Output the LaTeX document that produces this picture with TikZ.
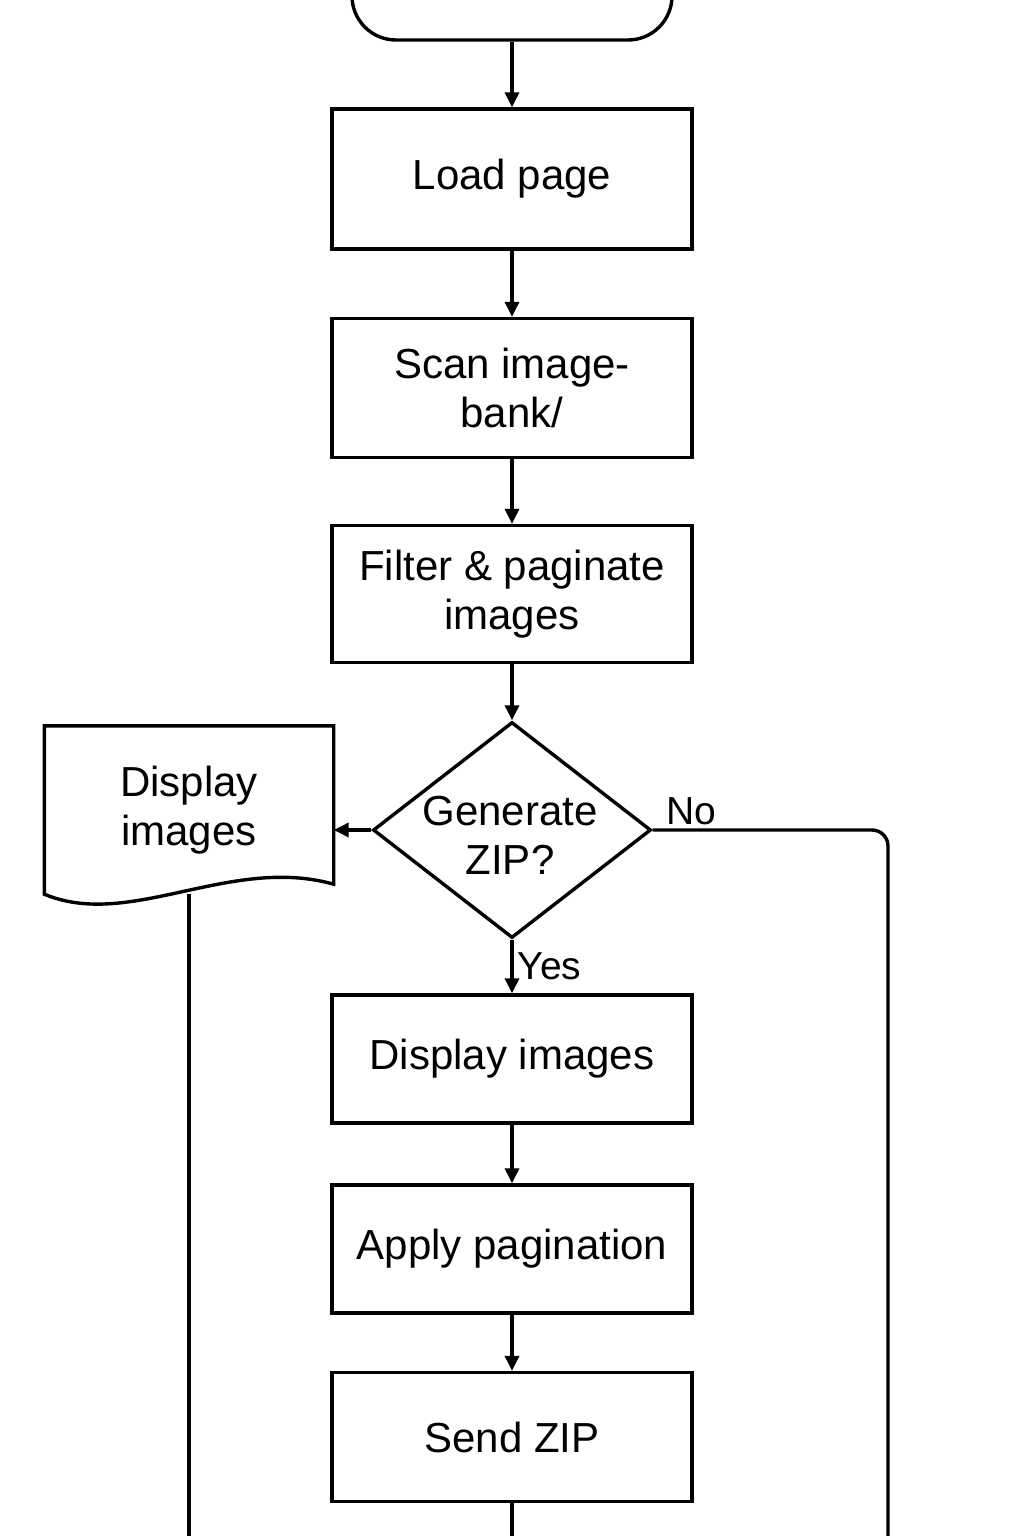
\documentclass[tikz,border=0pt]{standalone}
\usepackage{fontspec}
\setmainfont{Liberation Sans}
\usetikzlibrary{shapes.geometric,arrows.meta}
\tikzset{
  line/.style={line width=1.7pt},
  arrow/.style={line,-{Triangle[length=7.5pt,width=7pt]}},
  box/.style={draw,line width=1.7pt,minimum width=180pt,minimum height=70pt,align=center,font=\fontsize{21}{24.5}\selectfont},
  decision/.style={draw,diamond,line width=1.7pt,minimum width=139pt,minimum height=108pt,inner sep=0pt},
  lbl/.style={font=\fontsize{19.5}{23}\selectfont,inner sep=1pt}
}
\begin{document}
\begin{tikzpicture}[x=0.5pt,y=-0.5pt]
  \clip (0,0) rectangle (1024,1536);
  \path (512,-20) node [draw,line width=1.7pt,rounded corners=22pt,minimum width=160pt,minimum height=60pt] (start) {};
  \path (512,179) node [box] (load) {Load page};
  \path (512,388) node [box,minimum height=69.5pt] (scan) {Scan image-\\bank/};
  \path (512,594) node [box,minimum height=68.5pt] (filt) {Filter \& paginate\\images};
  \path (512,830) node [decision] (dec) {};
  \path (510,835) node [box,draw=none,minimum width=0pt,minimum height=0pt,inner sep=0pt] (dectext) {Generate\\ZIP?};
  \path (512,1059) node [box,minimum height=64pt] (show) {Display images};
  \path (512,1249) node [box,minimum height=64pt] (pag) {Apply pagination};
  \path (512,1437) node [box,minimum height=64.5pt] (zip) {Send ZIP};
  % document shape
  \path (189,810) node [box,draw=none,minimum width=143pt,minimum height=82.5pt] (doc) {Display\\images};
  \draw [line] (doc.north west) -- (doc.north east) -- ([yshift=5pt]doc.south east) .. controls (230,855) and (130,930) .. (doc.south west) -- cycle;
  \coordinate (docend) at (189,1540);
  \coordinate (noend) at (888,1540);
  \coordinate (zipend) at (512,1540);
  \draw [arrow] (start) -- (load);
  \draw [arrow] (load) -- (scan);
  \draw [arrow] (scan) -- (filt);
  \draw [arrow] (filt) -- (dec);
  \draw [arrow] (dec.west) -- (dec.west -| doc.east);
  \draw [arrow] (dec) -- node [lbl,anchor=west,xshift=1pt] (yes) {Yes} (show);
  \draw [line,rounded corners=8pt] (dec.east) node [lbl,anchor=base west,xshift=5pt,yshift=3pt] (no) {No} -- (noend |- dec.east) -- (noend);
  \draw [line] (doc.south) -- (docend);
  \draw [arrow] (show) -- (pag);
  \draw [arrow] (pag) -- (zip);
  \draw [line] (zip) -- (zipend);
\end{tikzpicture}
\end{document}
